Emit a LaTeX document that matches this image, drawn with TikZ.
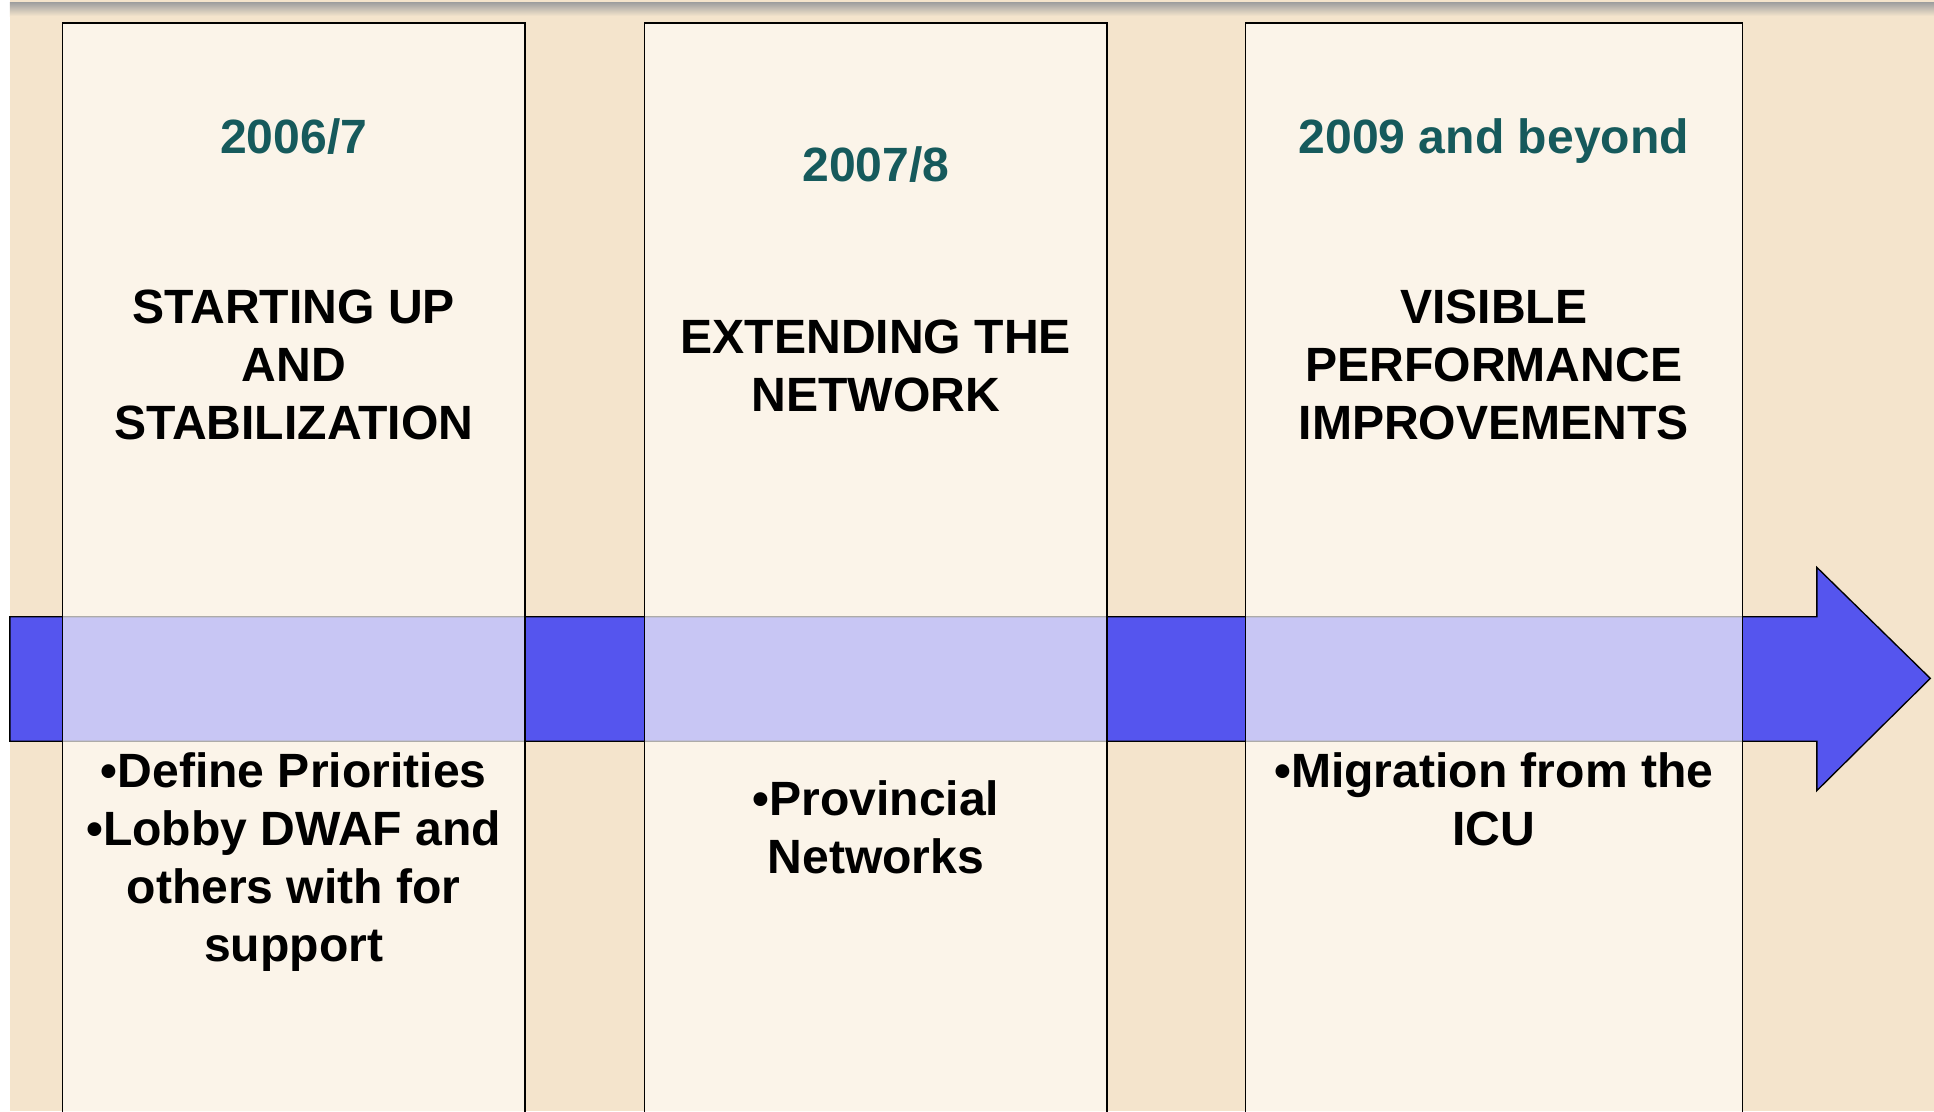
\documentclass[tikz,border=0pt]{standalone}
\usepackage{fontspec}
\setmainfont{Liberation Sans}
\usetikzlibrary{%
  positioning%
}
\definecolor{parchment}{HTML}{F4E4CC}
\definecolor{yearteal}{HTML}{165A5C}
\definecolor{bandblue}{HTML}{5555EE}
\definecolor{boxcream}{HTML}{FFFDF8}
\tikzset{
  stagebox/.style={draw=black, line width=1.2pt, fill=boxcream, fill opacity=0.68,
    anchor=north west, minimum width=375pt, minimum height=900pt, inner sep=0pt},
  yeartext/.style={text=yearteal, inner sep=0pt, align=center,
    font=\fontsize{39}{47}\selectfont\bfseries},
  headtext/.style={text=black, inner sep=0pt, align=center,
    font=\fontsize{39}{47}\selectfont\bfseries},
  itemtext/.style={headtext}
}

\begin{document}
\begin{tikzpicture}[x=1pt,y=-1pt]
        \useasboundingbox (0,0) rectangle (1568,901);
        \clip (0,0) rectangle (1568,901);
        % background
        \fill [white] (0,0) rectangle (1568,901);
        \fill [parchment] (8,0) rectangle (1568,901);
        \shade [top color=gray!75, bottom color=parchment] (8,2) rectangle (1568,13);
        % timeline arrow
        \draw [fill=bandblue, line width=1.1pt] (8,500) -- (1473,500) -- (1473,460)
          -- (1565,550) -- (1473,641) -- (1473,601) -- (8,601) -- cycle;
        % stages
        \node [stagebox] (s1) at (50,18) {};
        \node [stagebox] (s2) at (522,18) {};
        \node [stagebox, minimum width=403pt] (s3) at (1009,18) {};
        \node [yeartext, below=78pt of s1.north] (y1) {2006/7};
        \node [headtext, below=217pt of s1.north] (h1) {STARTING UP\\AND\\STABILIZATION};
        \node [itemtext, below=592pt of s1.north] (b1)
          {\textbullet Define Priorities\\\textbullet Lobby DWAF and\\others with for\\support};
        \node [yeartext, below=101pt of s2.north] (y2) {2007/8};
        \node [headtext, below=241pt of s2.north] (h2) {EXTENDING THE\\NETWORK};
        \node [itemtext, below=615pt of s2.north] (b2) {\textbullet Provincial\\Networks};
        \node [yeartext, below=78pt of s3.north] (y3) {2009 and beyond};
        \node [headtext, below=217pt of s3.north] (h3) {VISIBLE\\PERFORMANCE\\IMPROVEMENTS};
        \node [itemtext, below=592pt of s3.north] (b3) {\textbullet Migration from the\\ICU};
\end{tikzpicture}
\end{document}
